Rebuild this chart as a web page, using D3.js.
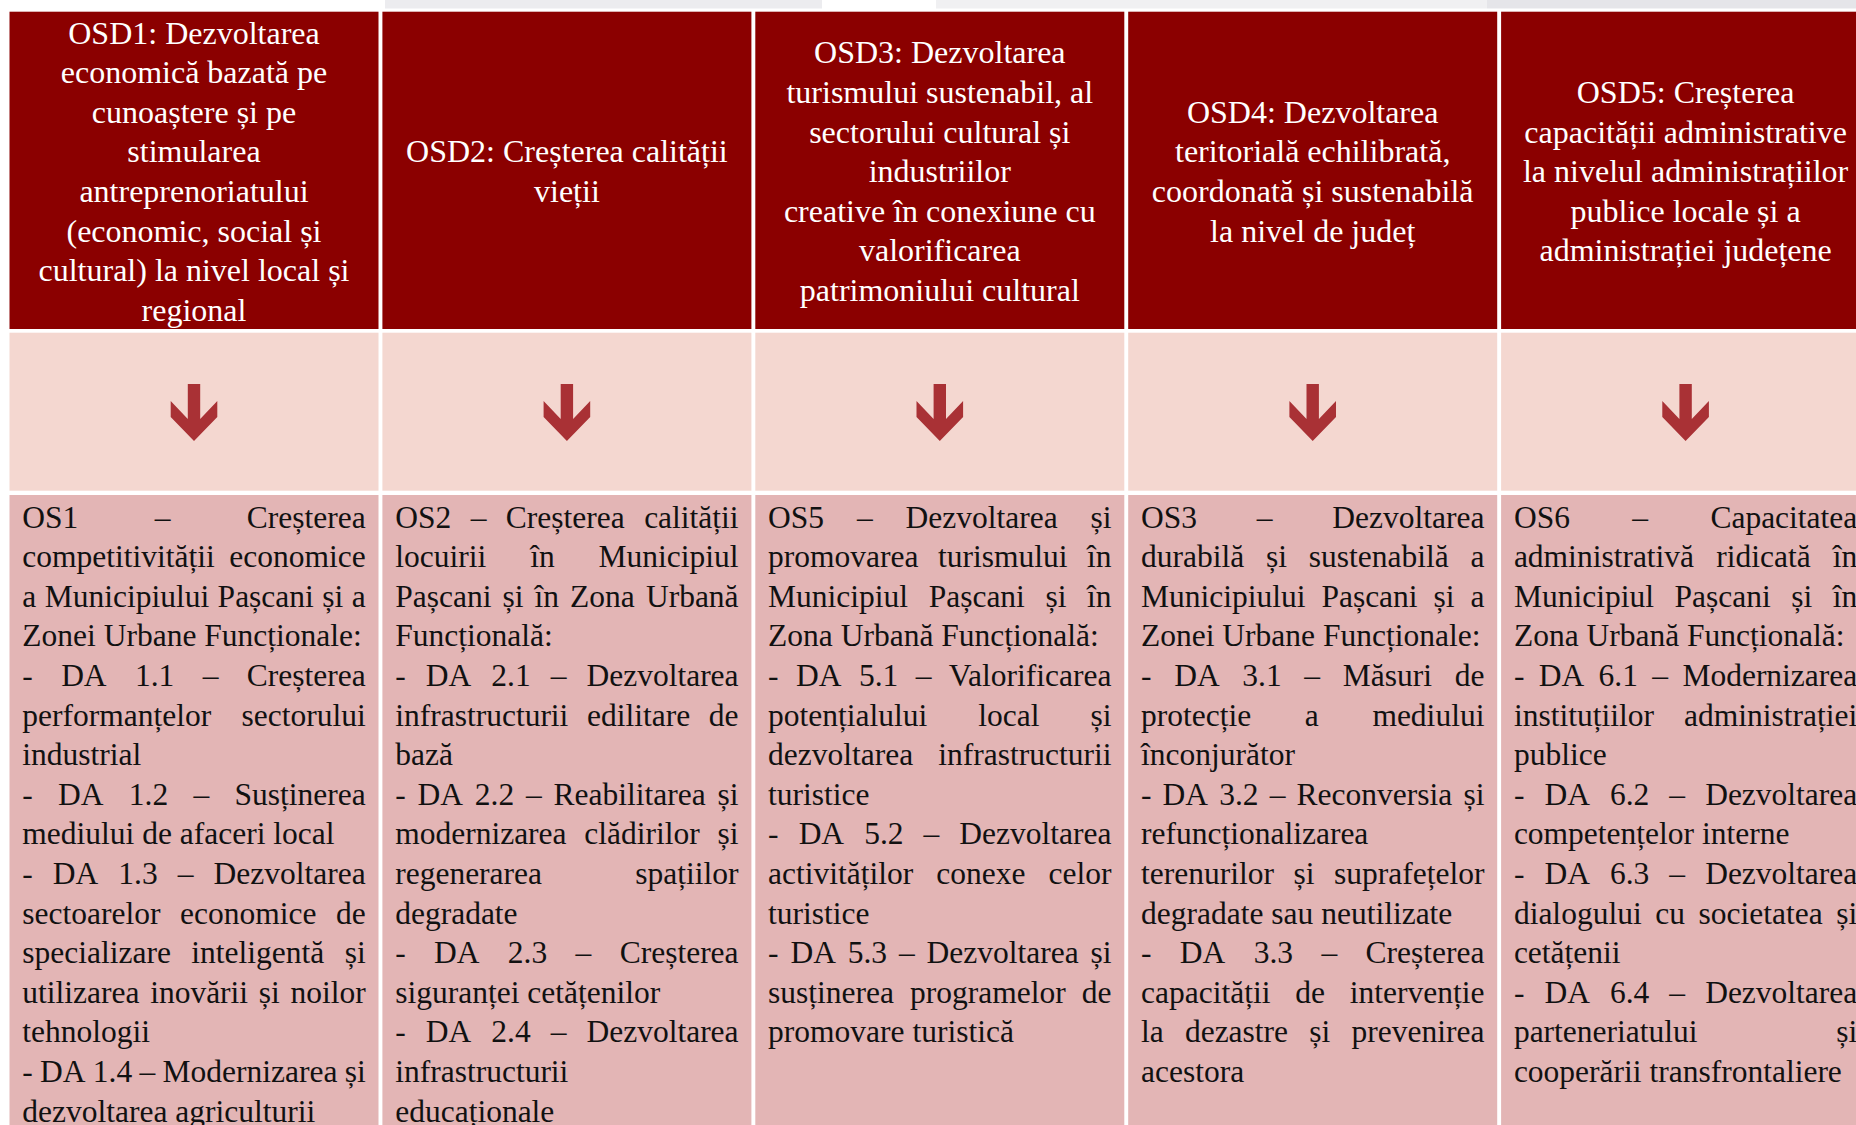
<!DOCTYPE html>
<html>
<head>
<meta charset="utf-8">
<script src="https://cdn.jsdelivr.net/npm/d3@7"></script>
<style>
  html, body { margin: 0; padding: 0; background: #ffffff; overflow: hidden; }
  svg { display: block; }
</style>
</head>
<body>
<svg id="chart" width="1856" height="1125"></svg>
<script>
// ---------------- DATA ----------------
const columns = ["OSD1", "OSD2", "OSD3", "OSD4", "OSD5"];

const headerLines = [
  ["OSD1: Dezvoltarea", "economică bazată pe", "cunoaștere și pe", "stimularea", "antreprenoriatului", "(economic, social și", "cultural) la nivel local și", "regional"],
  ["OSD2: Creșterea calității", "vieții"],
  ["OSD3: Dezvoltarea", "turismului sustenabil, al", "sectorului cultural și", "industriilor", "creative în conexiune cu", "valorificarea", "patrimoniului cultural"],
  ["OSD4: Dezvoltarea", "teritorială echilibrată,", "coordonată și sustenabilă", "la nivel de județ"],
  ["OSD5: Creșterea", "capacității administrative", "la nivelul administrațiilor", "publice locale și a", "administrației județene"]
];

const bodyCol1 = [
  ["OS1 – Creșterea", "competitivității economice", "a Municipiului Pașcani și a", "Zonei Urbane Funcționale:"],
  ["- DA 1.1 – Creșterea", "performanțelor sectorului", "industrial"],
  ["- DA 1.2 – Susținerea", "mediului de afaceri local"],
  ["- DA 1.3 – Dezvoltarea", "sectoarelor economice de", "specializare inteligentă și", "utilizarea inovării și noilor", "tehnologii"],
  ["- DA 1.4 – Modernizarea și", "dezvoltarea agriculturii"]
];
const bodyCol2 = [
  ["OS2 – Creșterea calității", "locuirii în Municipiul", "Pașcani și în Zona Urbană", "Funcțională:"],
  ["- DA 2.1 – Dezvoltarea", "infrastructurii edilitare de", "bază"],
  ["- DA 2.2 – Reabilitarea și", "modernizarea clădirilor și", "regenerarea spațiilor", "degradate"],
  ["- DA 2.3 – Creșterea", "siguranței cetățenilor"],
  ["- DA 2.4 – Dezvoltarea", "infrastructurii", "educaționale"]
];
const bodyCol3 = [
  ["OS5 – Dezvoltarea și", "promovarea turismului în", "Municipiul Pașcani și în", "Zona Urbană Funcțională:"],
  ["- DA 5.1 – Valorificarea", "potențialului local și", "dezvoltarea infrastructurii", "turistice"],
  ["- DA 5.2 – Dezvoltarea", "activităților conexe celor", "turistice"],
  ["- DA 5.3 – Dezvoltarea și", "susținerea programelor de", "promovare turistică"]
];
const bodyCol4 = [
  ["OS3 – Dezvoltarea", "durabilă și sustenabilă a", "Municipiului Pașcani și a", "Zonei Urbane Funcționale:"],
  ["- DA 3.1 – Măsuri de", "protecție a mediului", "înconjurător"],
  ["- DA 3.2 – Reconversia și", "refuncționalizarea", "terenurilor și suprafețelor", "degradate sau neutilizate"],
  ["- DA 3.3 – Creșterea", "capacității de intervenție", "la dezastre și prevenirea", "acestora"]
];
const bodyCol5 = [
  ["OS6 – Capacitatea", "administrativă ridicată în", "Municipiul Pașcani și în", "Zona Urbană Funcțională:"],
  ["- DA 6.1 – Modernizarea", "instituțiilor administrației", "publice"],
  ["- DA 6.2 – Dezvoltarea", "competențelor interne"],
  ["- DA 6.3 – Dezvoltarea", "dialogului cu societatea și", "cetățenii"],
  ["- DA 6.4 – Dezvoltarea", "parteneriatului și", "cooperării transfrontaliere"]
];
const bodyText = [bodyCol1, bodyCol2, bodyCol3, bodyCol4, bodyCol5];

// ---------------- LAYOUT ----------------
const svg = d3.select("#chart");
const FONT = "'Liberation Serif', 'Times New Roman', serif";
const HEADER_FILL = "#8B0000";
const ARROW_ROW_FILL = "#F4D7D0";
const BODY_FILL = "#E3B5B5";
const ARROW_FILL = "#A93135";

const x = d3.scaleBand()
  .domain(columns)
  .range([9.5, 1870.1])
  .paddingInner(0.01046)
  .paddingOuter(0);

const rows = {
  header: { y0: 11.7, y1: 329 },
  arrow:  { y0: 332.7, y1: 490.7 },
  body:   { y0: 495, y1: 1140 }
};
const LINE_H = 39.6;

// faint grey strip at the very top
const strip = [
  { x0: 385, x1: 822, c: "#ececef" },
  { x0: 936, x1: 1487, c: "#f0f0f2" },
  { x0: 1487, x1: 1856, c: "#e5e5e9" }
];
svg.selectAll("rect.strip").data(strip).enter().append("rect")
  .attr("class", "strip")
  .attr("x", d => d.x0).attr("y", 0)
  .attr("width", d => d.x1 - d.x0).attr("height", 8.5)
  .attr("fill", d => d.c);

// cells
const cellRows = [
  { key: "header", fill: HEADER_FILL },
  { key: "arrow", fill: ARROW_ROW_FILL },
  { key: "body", fill: BODY_FILL }
];
cellRows.forEach(r => {
  svg.selectAll("rect.cell-" + r.key).data(columns).enter().append("rect")
    .attr("class", "cell-" + r.key)
    .attr("x", d => x(d))
    .attr("y", rows[r.key].y0)
    .attr("width", x.bandwidth())
    .attr("height", rows[r.key].y1 - rows[r.key].y0)
    .attr("fill", r.fill);
});

// header text (centered, vertically centered)
const headerMid = (rows.header.y0 + rows.header.y1) / 2;
columns.forEach((c, i) => {
  const lines = headerLines[i];
  const cx = x(c) + x.bandwidth() / 2;
  const top = headerMid - lines.length * LINE_H / 2;
  const t = svg.append("text")
    .attr("font-family", FONT)
    .attr("font-size", 32)
    .attr("fill", "#ffffff")
    .attr("text-anchor", "middle");
  lines.forEach((ln, k) => {
    t.append("tspan")
      .attr("x", cx)
      .attr("y", top + k * LINE_H + 31.7)
      .text(ln);
  });
});

// arrows
const arrowPath = (cx) => {
  const yTop = 384, yShaftEnd = 419, yWing = 401, yWingOuter = 417, yTip = 441;
  const sw = 6.2, ww = 23.3;
  return d3.line()([
    [cx - sw, yTop], [cx + sw, yTop], [cx + sw, yShaftEnd],
    [cx + ww, yWing], [cx + ww, yWingOuter], [cx, yTip],
    [cx - ww, yWingOuter], [cx - ww, yWing], [cx - sw, yShaftEnd]
  ]) + "Z";
};
svg.selectAll("path.arrow").data(columns).enter().append("path")
  .attr("class", "arrow")
  .attr("d", d => arrowPath(x(d) + x.bandwidth() / 2))
  .attr("fill", ARROW_FILL);

// body text, justified
const PAD = 12.8;
const BODY_FS = 31.5;
columns.forEach((c, i) => {
  const left = x(c) + PAD;
  const width = x.bandwidth() - 2 * PAD;
  let lineIdx = 0;
  bodyText[i].forEach(par => {
    par.forEach((ln, k) => {
      const isLast = k === par.length - 1;
      const words = ln.split(" ");
      const y = rows.body.y0 + 32.5 + lineIdx * LINE_H;
      const t = svg.append("text")
        .attr("font-family", FONT)
        .attr("font-size", BODY_FS)
        .attr("fill", "#111111")
        .attr("y", y);
      const spans = words.map(w => t.append("tspan").text(w));
      const widths = spans.map(s => s.node().getComputedTextLength());
      const spaceW = BODY_FS * 0.25;
      const total = d3.sum(widths);
      let gap = spaceW;
      if (!isLast && words.length > 1) gap = (width - total) / (words.length - 1);
      let cur = left;
      spans.forEach((s, j) => {
        s.attr("x", cur).attr("y", y);
        cur += widths[j] + gap;
      });
      lineIdx++;
    });
  });
});
</script>
</body>
</html>
